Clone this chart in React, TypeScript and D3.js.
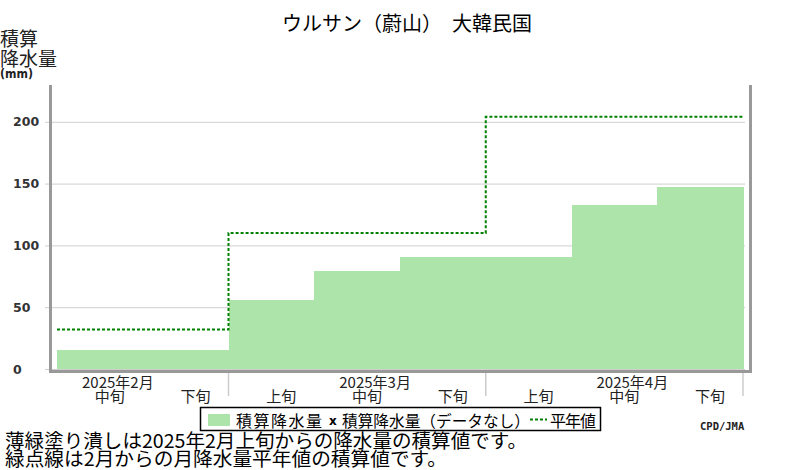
import React from 'react';
import * as d3 from 'd3';

const periods = ['2月中旬', '2月下旬', '3月上旬', '3月中旬', '3月下旬', '4月上旬', '4月中旬', '4月下旬'];
const periodLabels = ['中旬', '下旬', '上旬', '中旬', '下旬', '上旬', '中旬', '下旬'];
const accumulated = [15, 15, 55.5, 79, 90.5, 90.5, 133, 147];
const normalAccum = [32, 32, 110, 110, 110, 204, 204, 204];
const months = ['2025年2月', '2025年3月', '2025年4月'];
// index of each month's 上旬 in the periods list (Feb 上旬 is before the chart)
const monthStart = [-1, 2, 5];
const yTicks = [0, 50, 100, 150, 200];

const width = 800;
const height = 470;
const jp = '"Noto Sans CJK JP", sans-serif';

export default function App() {
    const x = d3.scaleBand<string>()
        .domain(periods)
        .range([57, 743])
        .padding(0);
    const bw = x.bandwidth();
    const y = d3.scaleLinear()
        .domain([0, 230])
        .range([369, 84.7]);

    const stepPts: Array<[number, number]> = periods.map((p, i) => [x(p) as number, y(normalAccum[i])]);
    stepPts.push([(x(periods[periods.length - 1]) as number) + bw, y(normalAccum[normalAccum.length - 1])]);
    const stepLine = d3.line<[number, number]>()
        .x(d => d[0])
        .y(d => d[1])
        .curve(d3.curveStepAfter);

    const x0 = x(periods[0]) as number;
    const monthX = (i: number) => x0 + (monthStart[i] + 1.5) * bw;
    const separators = [x(periods[2]) as number, x(periods[5]) as number, x0 + periods.length * bw];

    return (
        <svg width={width} height={height} viewBox={`0 0 ${width} ${height}`}
            style={{ position: 'absolute', left: 0, top: 0, background: '#fff' }}>
            <text x={407} y={31} textAnchor="middle" fontFamily={jp} fontSize={20} fill="#000">
                ウルサン（蔚山）　大韓民国
            </text>

            <text x={0} y={46} fontFamily={jp} fontSize={19} fill="#222">積算</text>
            <text x={0} y={66} fontFamily={jp} fontSize={19} fill="#222">降水量</text>
            <text x={0} y={78} fontFamily="DejaVu Sans" fontWeight="bold" fontSize={11.5} fill="#222"
                textLength={33} lengthAdjust="spacingAndGlyphs">(mm)</text>

            {yTicks.map(t => (
                <g key={t}>
                    <line x1={45} x2={745} y1={y(t) + 0.5} y2={y(t) + 0.5} stroke="#cfcfcf" strokeWidth={1} />
                    <text x={13} y={y(t)} dy="0.36em" fontFamily="DejaVu Sans" fontWeight="bold"
                        fontSize={12.5} fill="#333">{t}</text>
                </g>
            ))}

            <g shapeRendering="crispEdges">
                {periods.map((p, i) => (
                    <rect key={p} x={x(p)} y={y(accumulated[i])} width={bw + 0.5}
                        height={y(0) - y(accumulated[i])} fill="#ace4aa" />
                ))}
            </g>

            <path d={stepLine(stepPts) as string} fill="none" stroke="#008000"
                strokeWidth={2} strokeDasharray="3,2" />

            <line x1={50.5} x2={50.5} y1={85} y2={373} stroke="#999" strokeWidth={3} />
            <line x1={750.5} x2={750.5} y1={85} y2={373} stroke="#999" strokeWidth={3} />
            <line x1={49} x2={752} y1={371.5} y2={371.5} stroke="#999" strokeWidth={3} />

            {separators.map((s, i) => (
                <line key={i} x1={s} x2={s} y1={373} y2={396} stroke="#cccccc" strokeWidth={1.5} />
            ))}

            {months.map((m, i) => (
                <text key={m} x={monthX(i) + 18} y={388} textAnchor="middle" fontFamily={jp}
                    fontSize={15} fill="#222">{m}</text>
            ))}
            {periods.map((p, i) => (
                <text key={p} x={(x(p) as number) + bw / 2 + 10} y={402} textAnchor="middle"
                    fontFamily={jp} fontSize={15} fill="#222">{periodLabels[i]}</text>
            ))}

            <g>
                <rect x={200.5} y={407.5} width={400} height={23} fill="#fff" stroke="#000" strokeWidth={1.5} />
                <rect x={208} y={414} width={22} height={12} fill="#ace4aa" />
                <text x={236} y={427} fontFamily={jp} fontSize={16} fill="#000"
                    textLength={86} lengthAdjust="spacing">積算降水量</text>
                <text x={329} y={425} fontFamily="DejaVu Sans" fontWeight="bold" fontSize={12} fill="#000">x</text>
                <text x={342} y={427} fontFamily={jp} fontSize={16} fill="#000"
                    textLength={188} lengthAdjust="spacingAndGlyphs">積算降水量（データなし）</text>
                <line x1={530} x2={547} y1={419.5} y2={419.5} stroke="#008000" strokeWidth={2} strokeDasharray="3,2" />
                <text x={550} y={427} fontFamily={jp} fontSize={16} fill="#000"
                    textLength={46} lengthAdjust="spacing">平年値</text>
            </g>

            <text x={700} y={430} fontFamily="DejaVu Sans Mono" fontWeight="bold" fontSize={10.5} fill="#222">CPD/JMA</text>

            <text x={5} y={448} fontFamily={jp} fontSize={19} fill="#000"
                textLength={522} lengthAdjust="spacingAndGlyphs">薄緑塗り潰しは2025年2月上旬からの降水量の積算値です。</text>
            <text x={5} y={466} fontFamily={jp} fontSize={19} fill="#000"
                textLength={442} lengthAdjust="spacingAndGlyphs">緑点線は2月からの月降水量平年値の積算値です。</text>
        </svg>
    );
}
